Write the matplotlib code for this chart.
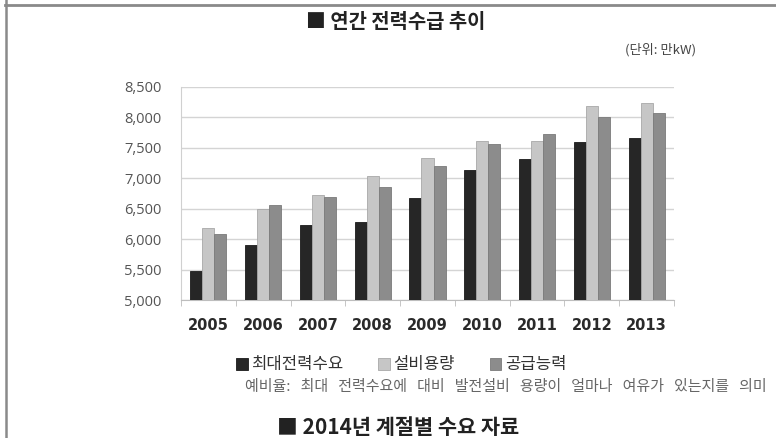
import matplotlib
matplotlib.use('Agg')
import matplotlib.pyplot as plt
from matplotlib.lines import Line2D
from matplotlib.ticker import FuncFormatter, MultipleLocator
import numpy as np

plt.rcParams['font.family'] = ['Noto Sans CJK KR', 'DejaVu Sans']

# 데이터 (단위: 만kW)
years = ['2005', '2006', '2007', '2008', '2009', '2010', '2011', '2012', '2013']
peak_demand = [5470, 5900, 6225, 6275, 6680, 7135, 7325, 7600, 7655]
capacity = [6180, 6490, 6720, 7035, 7335, 7615, 7615, 8190, 8245]
supply = [6090, 6560, 6685, 6855, 7210, 7570, 7725, 8000, 8075]

series_names = ['최대전력수요', '설비용량', '공급능력']
series_colors = ['#262626', '#c6c6c6', '#8c8c8c']
edge_colors = ['#1a1a1a', '#a8a8a8', '#7a7a7a']

fig = plt.figure(figsize=(7.76, 4.38), dpi=100)
ax = fig.add_axes([181 / 776, 1 - 300 / 438, 493 / 776, 213 / 438])

x = np.arange(len(years))
w = 0.22
bars = []
for i, (vals, c, ec) in enumerate(zip([peak_demand, capacity, supply], series_colors, edge_colors)):
    b = ax.bar(x + (i - 1) * w, vals, width=w, color=c, edgecolor=ec, linewidth=0.6,
               label=series_names[i], zorder=3)
    bars.append(b)

ax.set_xlim(-0.5, len(years) - 0.5)
ax.set_ylim(5000, 8500)
ax.yaxis.set_major_locator(MultipleLocator(500))
ax.yaxis.set_major_formatter(FuncFormatter(lambda v, p: f'{int(v):,}'))
ax.grid(axis='y', color='#d4d4d4', linewidth=1.0, zorder=0)

for s in ['top', 'right']:
    ax.spines[s].set_visible(False)
ax.spines['left'].set_color('#d0d0d0')
ax.spines['bottom'].set_color('#bdbdbd')

ax.set_xticks(x)
ax.set_xticklabels(years, fontsize=10.5, fontweight='bold', color='#2a2a2a', family='DejaVu Sans')
ax.set_xticks(np.arange(-0.5, len(years)), minor=True)
ax.tick_params(axis='x', which='major', length=0, pad=13)
ax.tick_params(axis='x', which='minor', length=4, color='#bdbdbd', direction='out')
ax.tick_params(axis='y', length=0, pad=14, labelsize=10.5, labelcolor='#555555')
for t in ax.get_yticklabels():
    t.set_family('Open Sans')

# 제목
fig.text(396 / 776, 1 - 22 / 438, '■ 연간 전력수급 추이', ha='center', va='center',
         fontsize=14.3, fontweight='bold', color='#222222')
fig.text(661 / 776, 1 - 50 / 438, '(단위: 만kW)', ha='center', va='center',
         fontsize=9.5, color='#444444')

# 범례
fig.legend(handles=bars, labels=series_names, loc='center left',
           bbox_to_anchor=(236 / 776, 1 - 365 / 438), ncol=3, frameon=False,
           fontsize=12, handlelength=0.7, handleheight=0.7, handletextpad=0.2,
           columnspacing=2.1, borderpad=0, borderaxespad=0, labelcolor='#333333')

fig.text(245 / 776, 1 - 387 / 438,
         '예비율:   최대   전력수요에   대비   발전설비   용량이   얼마나   여유가   있는지를   의미',
         ha='left', va='center', fontsize=10.8, color='#666666')

fig.text(277 / 776, 1 - 427 / 438, '■ 2014년 계절별 수요 자료', ha='left', va='center',
         fontsize=15, fontweight='bold', color='#222222')

# 테두리
fig.add_artist(Line2D([5 / 776, 1], [1 - 5 / 438, 1 - 5 / 438], transform=fig.transFigure,
                      color='#8a8a8a', linewidth=2))
fig.add_artist(Line2D([6 / 776, 6 / 776], [0, 1], transform=fig.transFigure,
                      color='#8a8a8a', linewidth=1.8))

fig.savefig('out.png', dpi=100)
